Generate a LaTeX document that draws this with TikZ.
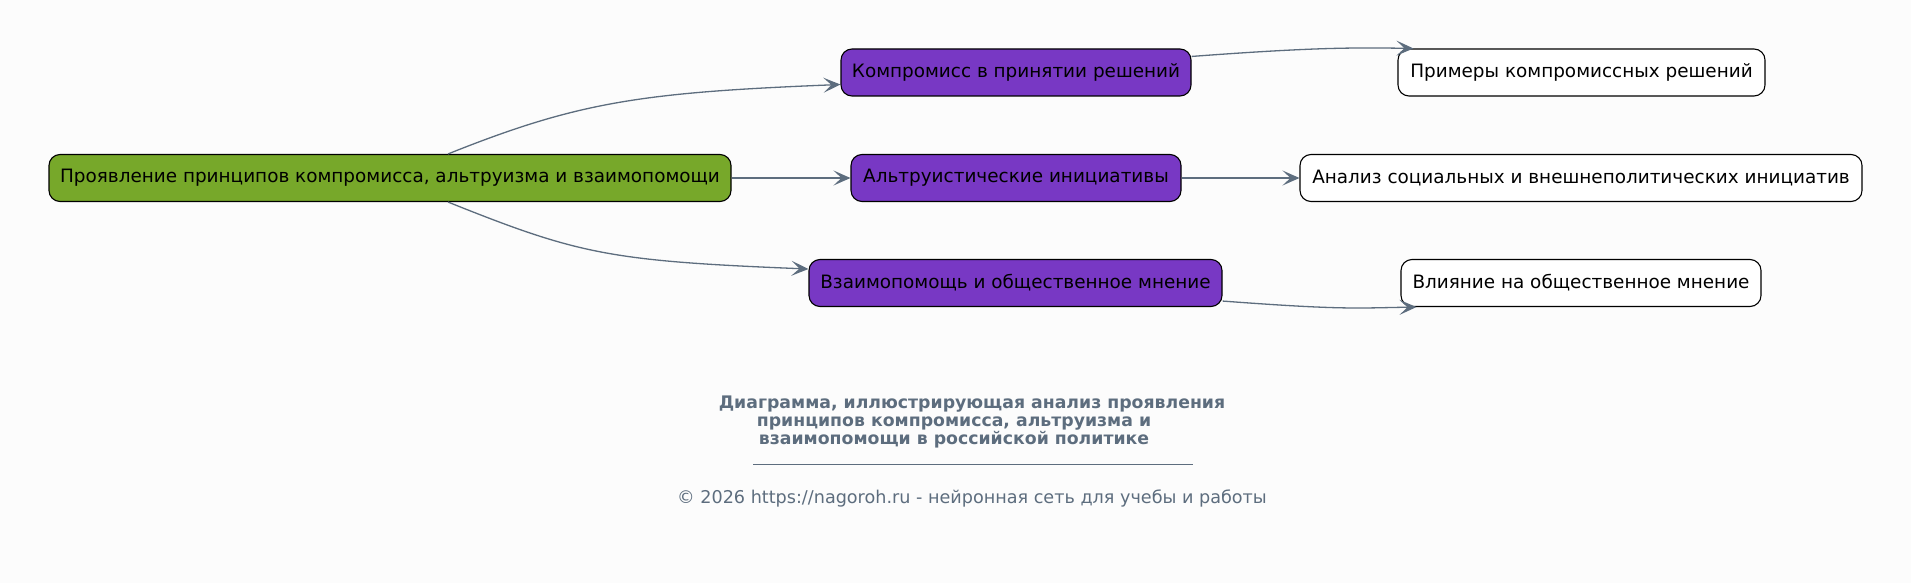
\documentclass[tikz,border=0pt]{standalone}
\usepackage{fontspec}
\setmainfont{DejaVu Sans}
\usetikzlibrary{arrows.meta,calc}
\definecolor{bg}{HTML}{FCFCFC}
\definecolor{rootgreen}{HTML}{77A82A}
\definecolor{midpurple}{HTML}{7838C4}
\definecolor{edgecol}{HTML}{5D6D7E}
\definecolor{titlecol}{HTML}{5D6D7E}
\tikzset{
  box/.style={draw=black, line width=1.1pt, rounded corners=11pt, minimum height=47pt, inner sep=0pt, font=\fontsize{18.4}{21}\selectfont, text=black},
  rootbox/.style={box, fill=rootgreen},
  catbox/.style={box, fill=midpurple},
  leafbox/.style={box, fill=white},
  conn/.style={draw=edgecol, line width=1.3pt, -{Stealth[length=17pt,width=15pt,inset=8pt]}},
}
\begin{document}
\begin{tikzpicture}[x=1pt,y=-1pt]
\fill[bg] (0,0) rectangle (1911,583);
\useasboundingbox (0,0) rectangle (1911,583);
\node[rootbox, minimum width=682pt] (root) at (390,178) {Проявление принципов компромисса, альтруизма и взаимопомощи};
\node[catbox, minimum width=350pt] (p1) at (1016,72.5) {Компромисс в принятии решений};
\node[catbox, minimum width=330pt] (p2) at (1016,178) {Альтруистические инициативы};
\node[catbox, minimum width=413pt] (p3) at (1015.5,283) {Взаимопомощь и общественное мнение};
\node[leafbox, minimum width=367pt] (w1) at (1581.5,72.5) {Примеры компромиссных решений};
\node[leafbox, minimum width=562pt] (w2) at (1581,178) {Анализ социальных и внешнеполитических инициатив};
\node[leafbox, minimum width=360pt] (w3) at (1581,283) {Влияние на общественное мнение};
\draw[conn] ($(root.north)+(58,0)$) .. controls +(130,-52) and +(-200,8) .. ($(p1.west)+(0,12)$);
\draw[conn] (root.east) -- (p2.west);
\draw[conn] ($(root.south)+(58,0)$) .. controls +(130,52) and +(-200,-8) .. ($(p3.west)+(0,-14)$);
\draw[conn] ($(p1.north east)+(0,8)$) .. controls +(120,-9) and +(-60,-1) .. ($(w1.north west)+(16,0)$);
\draw[conn] (p2.east) -- (w2.west);
\draw[conn] ($(p3.south east)+(0,-6)$) .. controls +(120,9) and +(-60,1) .. ($(w3.south west)+(16,0)$);
\node[font=\bfseries\fontsize{17.3}{18}\selectfont, text=titlecol, align=center] (title) at (972,422) {Диаграмма, иллюстрирующая анализ проявления\\принципов компромисса, альтруизма и\kern36pt\\взаимопомощи в российской политике\kern36pt};
\draw[titlecol, line width=0.8pt] (753,464) -- (1193,464);
\node[font=\fontsize{17.6}{20}\selectfont, text=titlecol] (copy) at (972,498.5) {© 2026 https://nagoroh.ru - нейронная сеть для учебы и работы};
\end{tikzpicture}
\end{document}
